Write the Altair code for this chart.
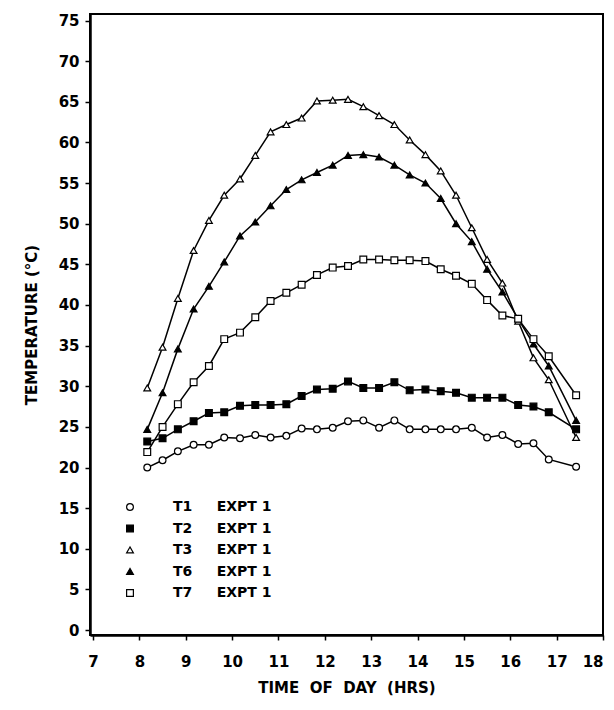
import altair as alt
import pandas as pd

# Time of day (hours) of each reading
hours = [8.17, 8.5, 8.83, 9.17, 9.5, 9.83, 10.17, 10.5, 10.83, 11.17, 11.5, 11.83,
         12.17, 12.5, 12.83, 13.17, 13.5, 13.83, 14.17, 14.5, 14.83, 15.17, 15.5,
         15.83, 16.17, 16.5, 16.83, 17.42]

t1 = [20.0, 20.9, 22.0, 22.8, 22.8, 23.7, 23.6, 24.0, 23.7, 23.9, 24.8, 24.7,
      24.9, 25.7, 25.8, 24.9, 25.8, 24.7, 24.7, 24.7, 24.7, 24.9, 23.7, 24.0,
      22.9, 23.0, 21.0, 20.1]
t2 = [23.2, 23.6, 24.7, 25.7, 26.7, 26.8, 27.6, 27.7, 27.7, 27.8, 28.8, 29.6,
      29.7, 30.6, 29.8, 29.8, 30.5, 29.5, 29.6, 29.4, 29.2, 28.6, 28.6, 28.6,
      27.7, 27.5, 26.8, 24.7]
t3 = [29.8, 34.8, 40.8, 46.7, 50.4, 53.5, 55.5, 58.4, 61.3, 62.2, 63.0, 65.1,
      65.2, 65.3, 64.4, 63.3, 62.2, 60.3, 58.5, 56.5, 53.5, 49.5, 45.6, 42.7,
      38.0, 33.5, 30.8, 23.7]
t6 = [24.7, 29.2, 34.6, 39.5, 42.3, 45.3, 48.5, 50.2, 52.2, 54.2, 55.4, 56.3,
      57.2, 58.4, 58.5, 58.2, 57.2, 56.0, 55.0, 53.1, 50.0, 47.8, 44.4, 41.6,
      38.3, 35.2, 32.5, 25.8]
t7 = [21.9, 25.0, 27.8, 30.5, 32.5, 35.8, 36.6, 38.5, 40.5, 41.5, 42.5, 43.7,
      44.6, 44.8, 45.6, 45.6, 45.5, 45.5, 45.4, 44.4, 43.6, 42.6, 40.6, 38.7,
      38.3, 35.8, 33.7, 28.9]

series = ["T1", "T2", "T3", "T6", "T7"]
shapes = ["circle", "square", "triangle-up", "triangle-up", "square"]
fills = ["white", "black", "white", "black", "white"]
strokes = ["black", "black", "black", "black", "black"]
x_ticks = [7, 8, 9, 10, 11, 12, 13, 14, 15, 16, 17, 18]
y_ticks = [0, 5, 10, 15, 20, 25, 30, 35, 40, 45, 50, 55, 60, 65, 70, 75]

rows = []
for name, vals in zip(series, [t1, t2, t3, t6, t7]):
    for h, v in zip(hours, vals):
        rows.append({"hour": h, "temp": v, "series": name})
df = pd.DataFrame(rows)

FONT = "DejaVu Sans"
NB = "\u00a0"
SP = NB * 2

legend = alt.Legend(
    title=None, orient="none", legendX=33, legendY=486, padding=0,
    labelFont=FONT, labelFontSize=14, labelFontWeight="bold", labelColor="black",
    labelOffset=36, rowPadding=7.5, symbolSize=46, symbolStrokeColor="black",
    symbolStrokeWidth=1.2,
    labelExpr="datum.label + '" + NB * 5 + "EXPT 1'",
)

x_enc = alt.X("hour:Q", scale=alt.Scale(domain=[6.935, 18.0], nice=False, zero=False),
              axis=alt.Axis(values=x_ticks, format="d",
                            title="TIME" + SP + "OF" + SP + "DAY" + SP + "(HRS)"))
y_enc = alt.Y("temp:Q", scale=alt.Scale(domain=[-0.6, 75.8], nice=False, zero=False),
              axis=alt.Axis(values=y_ticks, format="d", title="TEMPERATURE" + NB + "(°C)"))

lines = alt.Chart(df).mark_line(color="black", strokeWidth=1.5).encode(
    x=x_enc, y=y_enc, detail="series:N", order="hour:Q"
)
points = alt.Chart(df).mark_point(filled=True, strokeWidth=1.2, size=46, opacity=1).encode(
    x=x_enc, y=y_enc,
    shape=alt.Shape("series:N", scale=alt.Scale(domain=series, range=shapes), legend=legend),
    fill=alt.Fill("series:N", scale=alt.Scale(domain=series, range=fills), legend=legend),
    stroke=alt.Stroke("series:N", scale=alt.Scale(domain=series, range=strokes), legend=legend),
)

chart = (lines + points).properties(
    width=513, height=621,
    padding={"left": 82, "top": 6, "right": 3, "bottom": 66},
    autosize=alt.AutoSizeParams(type="none"),
    background="white",
).configure_view(
    stroke="black", strokeWidth=2
).configure_axis(
    grid=False, domainColor="black", domainWidth=2.5, tickColor="black", tickWidth=1.5,
    tickSize=5, labelFont=FONT, labelFontSize=15, labelFontWeight="bold", labelColor="black",
    titleFont=FONT, titleFontSize=15, titleFontWeight="bold", titleColor="black",
).configure_axisX(
    labelPadding=14, titlePadding=11
).configure_axisY(
    labelPadding=6, titlePadding=19
)

chart.save("out.html", embed_options={"renderer": "svg", "actions": False})
